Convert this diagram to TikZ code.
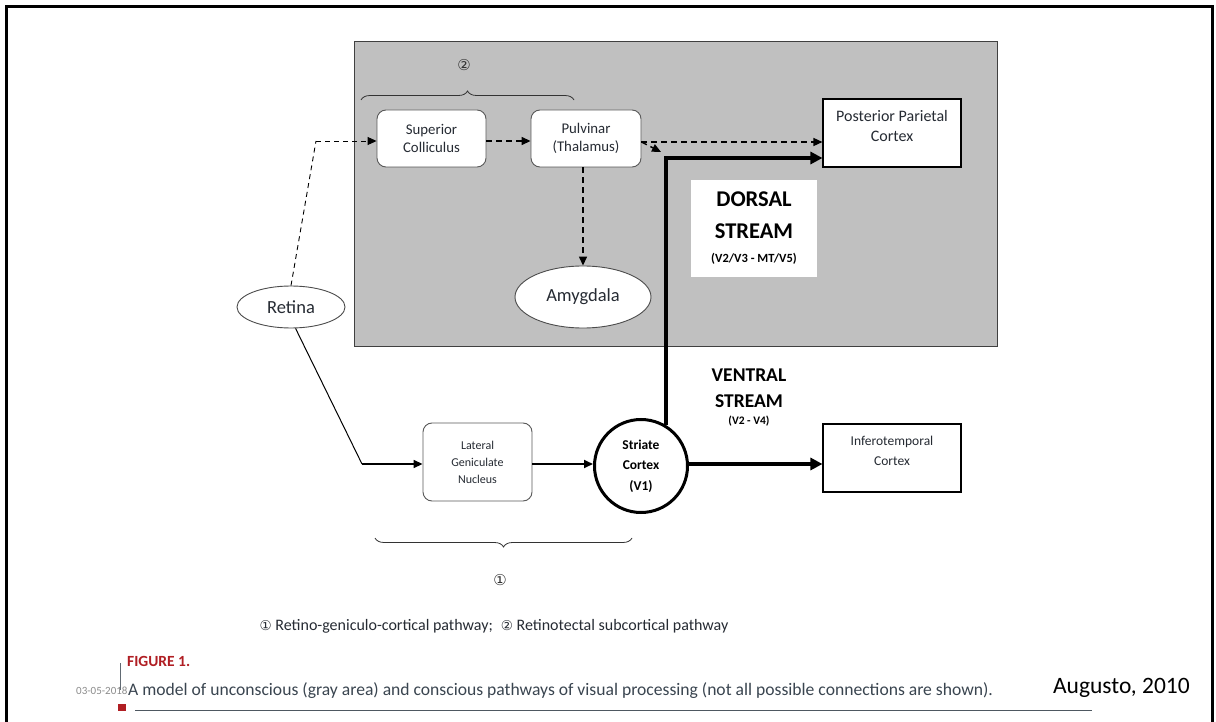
\documentclass[tikz,border=0pt]{standalone}
\usepackage{fontspec}
\setmainfont{Carlito}
\newfontfamily\dejavu{DejaVu Sans}
\usetikzlibrary{arrows.meta,shapes.geometric,decorations.pathreplacing}
\newcommand{\fsz}[2]{\fontsize{#1pt}{#2pt}\selectfont}
\definecolor{txt}{HTML}{262B33}
\definecolor{areagray}{HTML}{C0C0C0}
\definecolor{figred}{HTML}{B01E23}
\definecolor{captxt}{HTML}{3A4550}
\tikzset{
  rbox/.style={draw=black!65, line width=0.9pt, rounded corners=9pt, fill=white, align=center, inner sep=0pt, text=txt},
  sbox/.style={draw=black, line width=1.1pt, fill=white, align=center, inner sep=0pt, text=txt},
  oval/.style={ellipse, draw=black!70, line width=0.9pt, fill=white, inner sep=0pt, text=txt},
  dsh/.style={dash pattern=on 6pt off 4pt, line width=1.4pt},
  thindsh/.style={dash pattern=on 5pt off 4pt, line width=0.9pt},
  tip/.style={-{Triangle[length=9pt,width=8pt]}},
  thk/.style={line width=4pt, -{Triangle[length=12pt,width=12pt]}},
  brc/.style={decorate, decoration={brace, amplitude=9pt}, line width=0.8pt, draw=black!80},
}
\begin{document}
\begin{tikzpicture}[x=1pt,y=-1pt]
\useasboundingbox (0,0) rectangle (1216,722);
\fill[white] (0,0) rectangle (1216,722);
% outer frame
\draw[line width=3pt] (6.5,730) -- (6.5,7) -- (1212.5,7) -- (1212.5,730);
% gray area
\draw[fill=areagray, draw=black!75, line width=0.8pt] (354,41) rectangle (997,346);

% nodes
\node[rbox, minimum width=109pt, minimum height=57pt, font=\fsz{14.8}{18}] (sc) at (431.5,138.5) {Superior\\Colliculus};
\node[rbox, minimum width=110pt, minimum height=57pt, font=\fsz{14.8}{18}] (pul) at (586,138.5) {Pulvinar\\(Thalamus)};
\node[sbox, minimum width=138pt, minimum height=68pt, font=\fsz{16}{20}] (ppc) at (892,133) {Posterior Parietal\\Cortex\\[-6pt]\mbox{}};
\node[fill=white, minimum width=126pt, minimum height=97pt, align=center, inner sep=0pt, font=\fsz{22.5}{32}\bfseries] (dors) at (754,228.5)
  {DORSAL\\STREAM\\[-8pt]{\fsz{12.5}{14}\bfseries (V2/V3 - MT/V5)}};
\node[oval, minimum width=136pt, minimum height=62pt, font=\fsz{18.5}{20}] (amy) at (583,297) {Amygdala};
\node[oval, minimum width=108pt, minimum height=42pt, font=\fsz{18.5}{20}] (ret) at (291,307) {Retina};
\node[rbox, minimum width=109pt, minimum height=78pt, font=\fsz{12}{17}] (lgn) at (477.5,462) {Lateral\\Geniculate\\Nucleus};
\node[circle, draw=black, line width=3pt, fill=white, minimum size=93pt, inner sep=0pt, align=center, font=\fsz{13.5}{20.5}\bfseries, text=black] (str) at (641,466) {Striate\\Cortex\\(V1)};
\node[sbox, minimum width=138pt, minimum height=68pt, font=\fsz{13.5}{20}] (it) at (892,458) {Inferotemporal\\Cortex\\[-6pt]\mbox{}};
\node[align=center, inner sep=0pt, font=\fsz{19.5}{26}\bfseries] (vent) at (749,398)
  {VENTRAL\\STREAM\\[-9pt]{\fsz{11.5}{13}\bfseries (V2 - V4)}};

% braces and pathway numbers
\draw[brc] (361,100) -- (574,100);
\node[font=\dejavu\fsz{15}{17}, text=black!80] (n2) at (464,65) {②};
\draw[brc] (632,538) -- (375,538);
\node[font=\dejavu\fsz{15}{17}, text=black!80] (n1) at (500,580) {①};

% connectors
\coordinate (rbend) at (316,141);
\draw[thindsh] (ret.north) -- (rbend);
\draw[thindsh, tip] (rbend) -- (rbend -| sc.west);
\draw[dsh, tip] (sc.east |- rbend) -- (pul.west |- rbend);
\draw[dsh, tip] (pul.east |- 0,142) -- (ppc.west |- 0,142);
\coordinate (dtip) at (661,152);
\draw[dsh, tip] (pul.east |- 0,142) -- (dtip);
\draw[dsh, tip] (pul.south -| amy.north) -- (amy.north);
\coordinate (lbend) at (362,464);
\draw[line width=1pt] (ret.-78) -- (lbend);
\draw[line width=1.6pt, tip] (lbend) -- (lbend -| lgn.west);
\draw[line width=1.8pt, tip] (lgn.east |- lbend) -- (lbend -| str.west);
\draw[thk] (str.east |- lbend) -- (lbend -| it.west);
\draw[thk] (str.58) |- (ppc.west |- 0,158);

% legend
\node[font=\fsz{16}{18}, text=txt, inner sep=0pt] (leg) at (494,626)
  {{\dejavu\fsz{13.5}{15}①} Retino-geniculo-cortical pathway;\; {\dejavu\fsz{13.5}{15}②} Retinotectal subcortical pathway};

% caption area
\draw[captxt!80, line width=0.8pt] (120.5,663) -- (120.5,690);
\fill[figred] (118,704) rectangle (126,711);
\draw[captxt!90, line width=1pt] (135,710) -- (1092,710);
\node[anchor=west, font=\fsz{15.5}{17}\bfseries, text=figred, inner sep=0pt] (fig) at (127,661) {FIGURE 1.};
\node[anchor=west, font=\fsz{11}{13}, text=black!45, inner sep=0pt] (date) at (76,691) {03-05-2018};
\node[anchor=west, font=\fsz{17.6}{19}, text=captxt, inner sep=0pt] (cap) at (128,691) {A model of unconscious (gray area) and conscious pathways of visual processing (not all possible connections are shown).};
\node[anchor=east, font=\fsz{23.5}{26}, text=black, inner sep=0pt] (aug) at (1190,688) {Augusto, 2010};
\end{tikzpicture}
\end{document}
